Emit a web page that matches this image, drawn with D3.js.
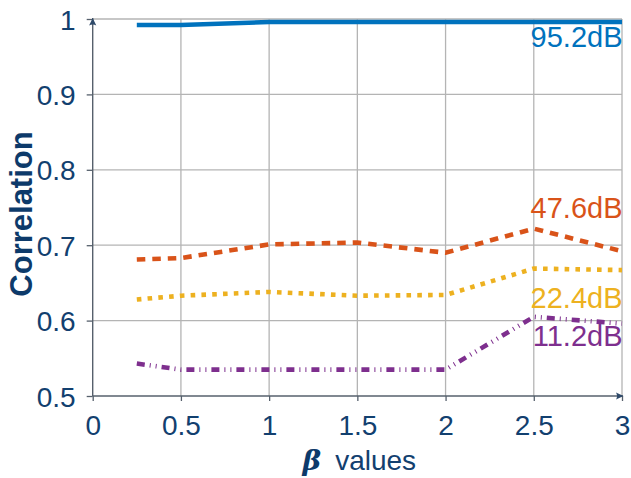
<!DOCTYPE html>
<html>
<head>
<meta charset="utf-8">
<script src="https://cdn.jsdelivr.net/npm/d3@7"></script>
<style>
  html, body { margin: 0; padding: 0; background: #fff; }
  svg { display: block; }
</style>
</head>
<body>
<svg id="chart" width="631" height="478"></svg>
<script>
// Correlation versus beta for four SNR levels
const betaValues = [0.25, 0.5, 1, 1.5, 2, 2.5, 3];
const snrLabels = ["95.2dB", "47.6dB", "22.4dB", "11.2dB"];
const corr95 = [0.992, 0.992, 0.996, 0.996, 0.996, 0.996, 0.996];
const corr47 = [0.681, 0.683, 0.701, 0.7035, 0.690, 0.722, 0.692];
const corr22 = [0.628, 0.633, 0.638, 0.633, 0.634, 0.669, 0.667];
const corr11 = [0.543, 0.535, 0.535, 0.535, 0.535, 0.605, 0.596];
const xTicks = [0, 0.5, 1, 1.5, 2, 2.5, 3];
const yTicks = [0.5, 0.6, 0.7, 0.8, 0.9, 1];

const seriesValues = [corr95, corr47, corr22, corr11];
const colors = ["#0072bd", "#d95319", "#edb120", "#7e2f8e"];
const dashes = [null, "8.5,7", "4.6,6.2", "8,5,1,5,1,5"];
const labelDy = [25, -33, 38, 22];

const textColor = "#12406f";
const axisColor = "#56606c";
const gridColor = "#b4b4b4";
const font = "'Liberation Sans', Arial, sans-serif";

const svg = d3.select("#chart");
const margin = { left: 92.7, right: 9, top: 19, bottom: 82 };
const W = 631, H = 478;

const x = d3.scaleLinear().domain([0, 3]).range([margin.left, W - margin.right]);
const y = d3.scaleLinear().domain([0.5, 1]).range([H - margin.bottom, margin.top]);

// grid
const grid = svg.append("g");
grid.selectAll("line.vg").data(xTicks.filter(d => d > 0)).join("line")
  .attr("x1", d => x(d)).attr("x2", d => x(d))
  .attr("y1", y(0.5)).attr("y2", y(1))
  .attr("stroke", gridColor).attr("stroke-width", 1.3);
grid.selectAll("line.hg").data(yTicks.filter(d => d > 0.5)).join("line")
  .attr("x1", x(0)).attr("x2", x(3))
  .attr("y1", d => y(d)).attr("y2", d => y(d))
  .attr("stroke", gridColor).attr("stroke-width", 1.3);

// axes via d3 axis generators
const xAxis = svg.append("g")
  .attr("transform", `translate(0,${y(0.5)})`)
  .call(d3.axisBottom(x).tickValues(xTicks).tickSize(5).tickPadding(13)
    .tickFormat(d => d3.format("")(d)));
const yAxis = svg.append("g")
  .attr("transform", `translate(${x(0)},0)`)
  .call(d3.axisLeft(y).tickValues(yTicks).tickSize(6).tickPadding(11)
    .tickFormat(d => d3.format("")(d)));

[xAxis, yAxis].forEach(g => {
  g.select(".domain").remove();
  g.selectAll(".tick line").attr("stroke", axisColor).attr("stroke-width", 1.3);
  g.selectAll(".tick text")
    .attr("fill", textColor)
    .style("font-family", font)
    .style("font-size", "28px");
});
xAxis.selectAll(".tick text").attr("dy", "0.74em");
yAxis.selectAll(".tick text").attr("dy", "0.36em");

// axis lines with arrow heads
svg.append("line")
  .attr("x1", x(0)).attr("x2", x(3) + 1)
  .attr("y1", y(0.5)).attr("y2", y(0.5))
  .attr("stroke", axisColor).attr("stroke-width", 1.4);
svg.append("line")
  .attr("x1", x(0)).attr("x2", x(0))
  .attr("y1", y(0.5)).attr("y2", y(1) - 1)
  .attr("stroke", axisColor).attr("stroke-width", 1.4);

function arrow(tx, ty, angle) {
  svg.append("path")
    .attr("d", "M0,0 L-7.5,-3.6 Q-5.5,0 -7.5,3.6 Z")
    .attr("transform", `translate(${tx},${ty}) rotate(${angle})`)
    .attr("fill", "#2f4a6a");
}
arrow(x(3) + 1.5, y(0.5), 0);
arrow(x(0), y(1) - 1, -90);

// series lines
const line = d3.line()
  .x((d, i) => x(betaValues[i]))
  .y(d => y(d));

const plot = svg.append("g");
seriesValues.forEach((vals, k) => {
  const p = plot.append("path")
    .datum(vals)
    .attr("d", line)
    .attr("fill", "none")
    .attr("stroke", colors[k])
    .attr("stroke-width", 4.6)
    .attr("stroke-linecap", "butt")
    .attr("stroke-linejoin", "miter");
  if (dashes[k]) p.attr("stroke-dasharray", dashes[k]);
});

// series labels at the right end
seriesValues.forEach((vals, k) => {
  const last = vals[vals.length - 1];
  svg.append("text")
    .attr("x", x(3) + 0.5)
    .attr("y", y(last) + labelDy[k])
    .attr("text-anchor", "end")
    .attr("fill", colors[k])
    .style("font-family", font)
    .style("font-size", "29px")
    .text(snrLabels[k]);
});

// axis titles
svg.append("text")
  .attr("transform", `translate(32,214) rotate(-90)`)
  .attr("text-anchor", "middle")
  .attr("fill", "#0d3a6a")
  .style("font-family", font)
  .style("font-size", "31px")
  .style("font-weight", "bold")
  .text("Correlation");

const xt = svg.append("text")
  .attr("x", (x(0) + x(3)) / 2 + 2)
  .attr("y", 470)
  .attr("text-anchor", "middle")
  .attr("fill", textColor)
  .style("font-family", font)
  .style("font-size", "28px");
xt.append("tspan")
  .style("font-family", "'DejaVu Serif', serif")
  .style("font-weight", "bold")
  .style("font-style", "italic")
  .attr("fill", "#0d3a6a")
  .text("β");
xt.append("tspan").text("\u2002values");
</script>
</body>
</html>
